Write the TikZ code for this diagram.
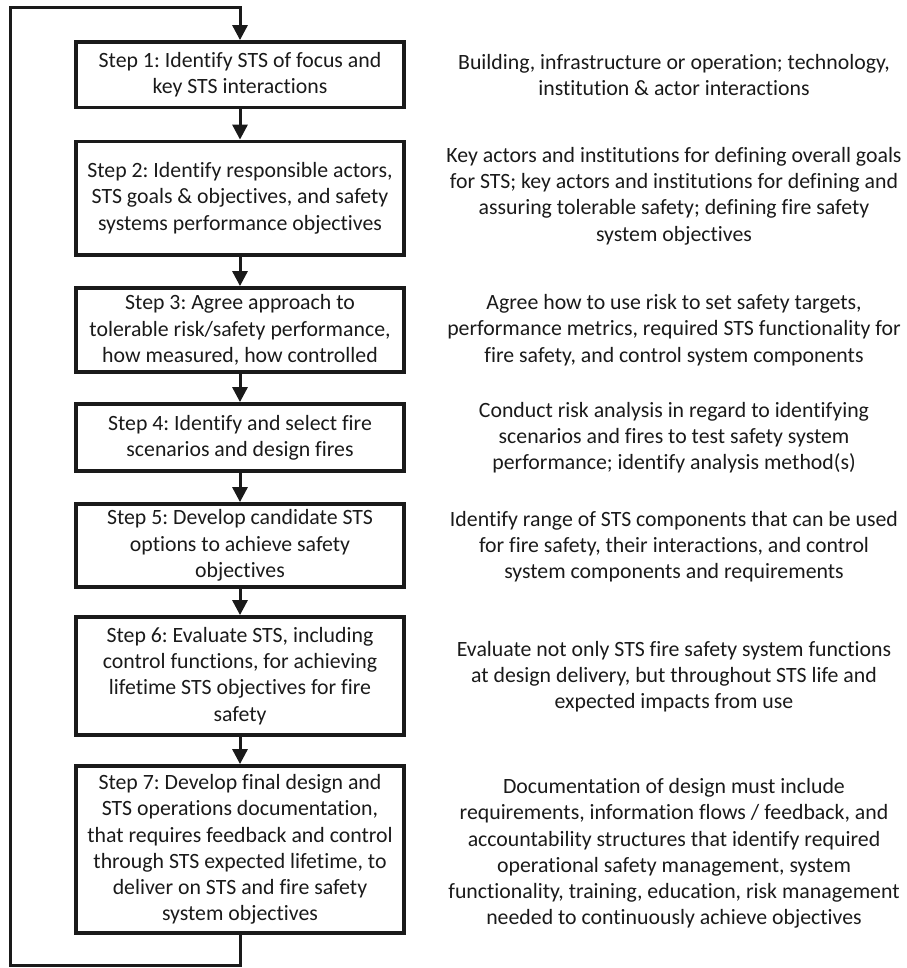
\documentclass[tikz,border=0pt]{standalone}
\usepackage{fontspec}
\setmainfont[Ligatures=NoCommon]{Carlito}
\usetikzlibrary{arrows.meta}
\definecolor{ink}{HTML}{1A1A1A}
\frenchspacing
\begin{document}
\begin{tikzpicture}[x=1pt,y=-1pt,
  stepbox/.style={draw=ink, line width=3.8pt, minimum width=328pt, inner sep=0pt,
    align=center, text=ink, font=\fontsize{21.8}{26.3}\selectfont\frenchspacing},
  note/.style={align=center, text=ink, inner sep=0pt, font=\fontsize{21.8}{26.3}\selectfont\frenchspacing},
  flow/.style={draw=ink, line width=3pt, -{Triangle[width=15pt,length=15pt]}},
  loopline/.style={draw=ink, line width=3pt}]
\useasboundingbox (0,0) rectangle (906,968);

% process steps
\node[stepbox, minimum height=65.5pt] (s1) at (240,74.75)
  {Step 1: Identify STS of focus and\\key STS interactions};
\node[stepbox, minimum height=113.5pt] (s2) at (240,198.25)
  {Step 2: Identify responsible actors,\\STS goals \& objectives, and safety\\systems performance objectives};
\node[stepbox, minimum height=84pt] (s3) at (240,330)
  {Step 3: Agree approach to\\tolerable risk/safety performance,\\how measured, how controlled};
\node[stepbox, minimum height=67pt] (s4) at (240,437.5)
  {Step 4: Identify and select fire\\scenarios and design fires};
\node[stepbox, minimum height=83pt] (s5) at (240,545.5)
  {Step 5: Develop candidate STS\\options to achieve safety\\objectives};
\node[stepbox, minimum height=118pt] (s6) at (240,676)
  {Step 6: Evaluate STS, including\\control functions, for achieving\\lifetime STS objectives for fire\\safety};
\node[stepbox, minimum height=167pt] (s7) at (240,849.5)
  {Step 7: Develop final design and\\STS operations documentation,\\that requires feedback and control\\through STS expected lifetime, to\\deliver on STS and fire safety\\system objectives};

% descriptions beside each step
\node[note] (d1) at (674,74.75)
  {Building, infrastructure or operation; technology,\\institution \& actor interactions};
\node[note] (d2) at (674,196)
  {Key actors and institutions for defining overall goals\\for STS; key actors and institutions for defining and\\assuring tolerable safety; defining fire safety\\system objectives};
\node[note] (d3) at (674,330)
  {Agree how to use risk to set safety targets,\\performance metrics, required STS functionality for\\fire safety, and control system components};
\node[note] (d4) at (674,437.5)
  {Conduct risk analysis in regard to identifying\\scenarios and fires to test safety system\\performance; identify analysis method(s)};
\node[note] (d5) at (674,546.5)
  {Identify range of STS components that can be used\\for fire safety, their interactions, and control\\system components and requirements};
\node[note] (d6) at (674,676.5)
  {Evaluate not only STS fire safety system functions\\at design delivery, but throughout STS life and\\expected impacts from use};
\node[note] (d7) at (674,853.5)
  {Documentation of design must include\\requirements, information flows / feedback, and\\accountability structures that identify required\\operational safety management, system\\functionality, training, education, risk management\\needed to continuously achieve objectives};

% flow between steps
\draw[flow] (s1) -- (s2);
\draw[flow] (s2) -- (s3);
\draw[flow] (s3) -- (s4);
\draw[flow] (s4) -- (s5);
\draw[flow] (s5) -- (s6);
\draw[flow] (s6) -- (s7);

% feedback loop back to the first step
\coordinate (bl) at (10.5,965.5);
\coordinate (tl) at (10.5,7.5);
\draw[flow, line join=miter] (s7.south) |- (bl) -- (tl) -| (s1.north);
\end{tikzpicture}
\end{document}
